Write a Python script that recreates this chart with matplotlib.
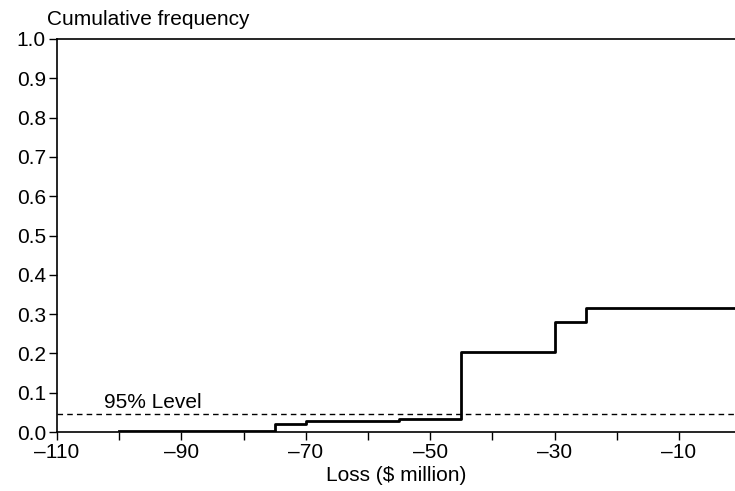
import matplotlib
matplotlib.use("Agg")
import matplotlib.pyplot as plt

plt.rcParams['font.family'] = ['Liberation Sans', 'DejaVu Sans']

loss_steps = [-100, -75, -70, -55, -45, -30, -25, 0]
cum_freq = [0.002, 0.021, 0.029, 0.034, 0.204, 0.28, 0.316, 0.316]
level_95 = 0.045
x_ticks = list(range(-110, 0, 10))
y_ticks = [i / 10 for i in range(11)]

fig = plt.figure(figsize=(7.35, 4.91), dpi=100)
ax = fig.add_axes([0.0776, 0.120, 0.9224, 0.8006])

ax.step(loss_steps, cum_freq, where='post', color='black', lw=2.0)
ax.axhline(level_95, color='black', lw=1.0, ls=(0, (4, 3)))
ax.text(-102.5, level_95 + 0.006, '95% Level', fontsize=15, va='bottom', ha='left')

ax.set_xlim(-110, -1)
ax.set_ylim(0, 1.0)
ax.set_xticks(x_ticks)
ax.set_xticklabels([('\u2013%d' % abs(v)) if (v + 110) % 20 == 0 else '' for v in x_ticks])
ax.set_yticks(y_ticks)
ax.set_yticklabels(['%.1f' % v for v in y_ticks])
ax.tick_params(direction='out', length=6, width=1.0, labelsize=15, pad=2)
ax.spines['right'].set_visible(False)
for s in ['left', 'bottom', 'top']:
    ax.spines[s].set_linewidth(1.2)

ax.set_xlabel('Loss ($ million)', fontsize=15, labelpad=3)
fig.text(0.064, 0.940, 'Cumulative frequency', fontsize=15, ha='left', va='bottom')

fig.savefig('out.png', dpi=100)
